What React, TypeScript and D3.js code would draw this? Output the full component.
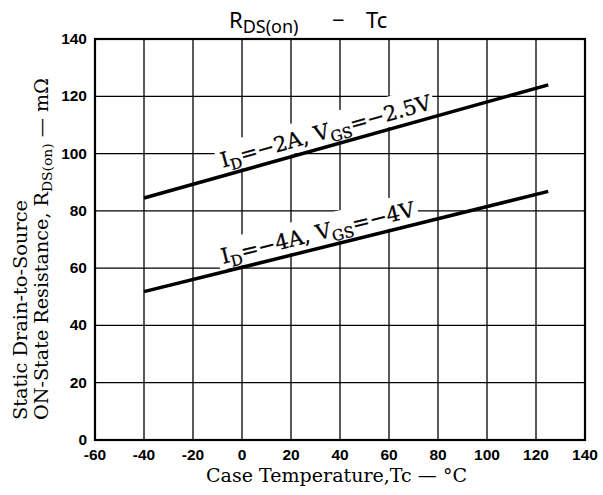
import React from 'react';
import * as d3 from 'd3';

// ---- data ----
const xTicks: number[] = [-60, -40, -20, 0, 20, 40, 60, 80, 100, 120, 140];
const yTicks: number[] = [0, 20, 40, 60, 80, 100, 120, 140];

// I_D = -2A, V_GS = -2.5V
const upperTemp: number[] = [-40, 125];
const upperRds: number[] = [84.5, 124];
// I_D = -4A, V_GS = -4V
const lowerTemp: number[] = [-40, 125];
const lowerRds: number[] = [51.8, 86.8];

const W = 603;
const H = 495;

const x = d3.scaleLinear().domain([-60, 140]).range([95, 585]);
const y = d3.scaleLinear().domain([0, 140]).range([440, 39]);

const lineGen = d3
  .line<[number, number]>()
  .x((d) => x(d[0]))
  .y((d) => y(d[1]));

type Series = { temps: number[]; vals: number[]; id: string; vgs: string; len: number };

const series: Series[] = [
  { temps: upperTemp, vals: upperRds, id: '2A', vgs: '2.5V', len: 218 },
  { temps: lowerTemp, vals: lowerRds, id: '4A', vgs: '4V', len: 199 },
];

const labelT = -7; // where the annotation starts along the curve (°C)

function Label({ s }: { s: Series }) {
  const t0 = s.temps[0];
  const t1 = s.temps[s.temps.length - 1];
  const v0 = s.vals[0];
  const v1 = s.vals[s.vals.length - 1];
  const vAt = v0 + ((v1 - v0) * (labelT - t0)) / (t1 - t0);
  const px = x(labelT);
  const py = y(vAt);
  const ang = (Math.atan2(y(v1) - y(v0), x(t1) - x(t0)) * 180) / Math.PI;
  return (
    <g transform={`translate(${px},${py}) rotate(${ang})`}>
      <rect x={-4} y={-32} width={s.len + 7} height={30} fill="#fff" />
      <text
        x={0}
        y={-8}
        fontFamily="'DejaVu Serif', 'Liberation Serif', serif"
        fontSize={21}
        fill="#000"
        stroke="#000"
        strokeWidth={0.3}
        textLength={s.len}
        lengthAdjust="spacingAndGlyphs"
      >
        I
        <tspan dy={5} fontSize={15}>D</tspan>
        <tspan dy={-5}>{`=\u2212${s.id}, V`}</tspan>
        <tspan dy={5} fontSize={15}>GS</tspan>
        <tspan dy={-5}>{`=\u2212${s.vgs}`}</tspan>
      </text>
    </g>
  );
}

export default function App() {
  const [x0, x1] = x.range();
  const [yb, yt] = y.range();
  return (
    <svg
      width={W}
      height={H}
      viewBox={`0 0 ${W} ${H}`}
      style={{ position: 'absolute', left: 0, top: 0, background: '#fff' }}
    >
      <rect x={0} y={0} width={W} height={H} fill="#fff" />
      {/* grid */}
      <g stroke="#000" strokeWidth={1.3}>
        {xTicks.slice(1, -1).map((v) => (
          <line key={'gx' + v} x1={x(v)} x2={x(v)} y1={yt} y2={yb} />
        ))}
        {yTicks.slice(1, -1).map((v) => (
          <line key={'gy' + v} x1={x0} x2={x1} y1={y(v)} y2={y(v)} />
        ))}
      </g>
      {/* label backgrounds + labels */}
      {series.map((s) => (
        <Label key={s.id} s={s} />
      ))}
      {/* curves */}
      {series.map((s) => (
        <path
          key={'p' + s.id}
          d={lineGen(s.temps.map((t, i) => [t, s.vals[i]] as [number, number])) || ''}
          fill="none"
          stroke="#000"
          strokeWidth={3.5}
        />
      ))}
      {/* frame */}
      <rect x={x0} y={yt} width={x1 - x0} height={yb - yt} fill="none" stroke="#000" strokeWidth={2.2} />

      {/* tick labels */}
      <g fontFamily="'Liberation Sans', Arial, sans-serif" fontWeight="bold" fontSize={15.5} fill="#000">
        {xTicks.map((v) => (
          <text key={'tx' + v} x={x(v)} y={460} textAnchor="middle">
            {String(v)}
          </text>
        ))}
        {yTicks.map((v) => (
          <text key={'ty' + v} x={87} y={y(v) + 5} textAnchor="end">
            {String(v)}
          </text>
        ))}
      </g>

      {/* title */}
      <text x={229} y={28} fontFamily="'Noto Sans', 'Open Sans', sans-serif" fontSize={22} fill="#000">
        R
        <tspan dy={5} fontSize={18}>DS(on)</tspan>
        <tspan x={332} dy={-5}>{'\u2212'}</tspan>
        <tspan x={366}>Tc</tspan>
      </text>

      {/* x axis title */}
      <text
        x={206}
        y={482}
        fontFamily="'DejaVu Serif', 'Liberation Serif', serif"
        fontSize={18}
        fill="#000"
        textLength={261}
        lengthAdjust="spacingAndGlyphs"
      >
        {'Case Temperature,Tc \u2014 \u00B0C'}
      </text>

      {/* y axis title */}
      <g transform="translate(27,420) rotate(-90)">
        <text
          x={0}
          y={0}
          fontFamily="'DejaVu Serif', 'Liberation Serif', serif"
          fontSize={18}
          fill="#000"
          textLength={220}
          lengthAdjust="spacingAndGlyphs"
        >
          Static Drain-to-Source
        </text>
      </g>
      <g transform="translate(48,420) rotate(-90)">
        <text
          x={0}
          y={0}
          fontFamily="'DejaVu Serif', 'Liberation Serif', serif"
          fontSize={18}
          fill="#000"
          textLength={342}
          lengthAdjust="spacingAndGlyphs"
        >
          ON-State Resistance, R
          <tspan dy={4} fontSize={13}>DS(on)</tspan>
          <tspan dy={-4}>{' \u2014 m\u03A9'}</tspan>
        </text>
      </g>
    </svg>
  );
}
